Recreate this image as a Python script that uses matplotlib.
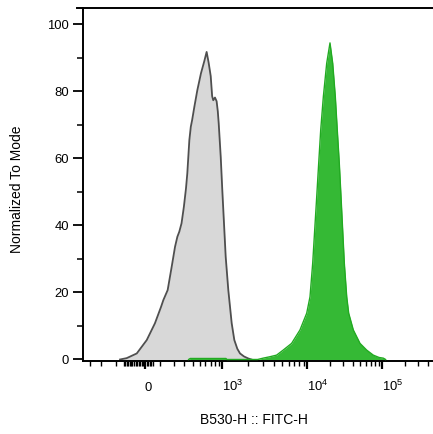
import numpy as np
import matplotlib
matplotlib.use('Agg')
import matplotlib.pyplot as plt
from matplotlib.ticker import FixedLocator, NullFormatter

plt.rcParams['font.family'] = ['Liberation Sans', 'DejaVu Sans']
plt.rcParams['mathtext.fontset'] = 'custom'
plt.rcParams['mathtext.rm'] = 'Liberation Sans'

# unstained control, B530-H intensity vs % of mode
gray_x = [-170, -120, -52, 11, 63, 104, 120, 152, 184, 212, 233, 251, 273, 297, 320, 335, 359,
          377, 394, 424, 466, 522, 580, 622, 660, 704, 735, 760, 800, 840, 870, 894, 949, 994,
          1042, 1092, 1173, 1287, 1383, 1500, 1615, 1800, 2023, 2200]
gray_y = [0, 0.4, 1.8, 5.8, 10.8, 15.7, 17.7, 20.7, 27.7, 33.6, 36.6, 38.1, 40.6, 45.5, 51.0, 55.5, 65.4,
          69.4, 71.4, 75.4, 80.3, 85.3, 89.0, 91.7, 88.6, 84.5, 78.5, 77.3, 78.1, 77.0, 74.0, 70.4, 60.4, 50.5,
          40.6, 30.6, 20.7, 10.8, 5.8, 3.2, 1.8, 0.9, 0.3, 0]

# stained sample
green_x = [350, 370, 1100, 1130, 2600, 3020, 3600, 4345, 5190, 6515, 8165, 9790, 10800, 11730, 12470,
           13270, 14100, 15000, 16260, 18030, 19950, 21680, 23500, 24950, 26550, 27980, 29440, 30970,
           33340, 35410, 40830, 50120, 61520, 75340, 90000, 102500, 110000]
green_y = [0, 0.3, 0.3, 0, 0, 0.4, 0.8, 1.3, 2.8, 4.8, 8.8, 13.8, 18.7, 28.7, 38.6,
           48.5, 58.5, 68.4, 78.3, 88.3, 94.4, 88.3, 78.3, 68.4, 58.5, 48.5, 38.6, 28.7,
           18.7, 13.8, 8.8, 4.8, 2.8, 1.3, 0.6, 0.4, 0]

major_ticks = [0, 1e3, 1e4, 1e5]
major_labels = ['0', r'$\mathregular{10^{3}}$', r'$\mathregular{10^{4}}$', r'$\mathregular{10^{5}}$']
minor_ticks = ([-500, -350, -200] + list(range(-140, 51, 10)) + list(range(100, 1000, 100))
               + [k * 1e3 for k in range(2, 10)] + [k * 1e4 for k in range(2, 10)]
               + [2e5, 3e5, 4e5])

# biexponential-ish display scale (asinh, stretched per decade)
C = 217.0
anchor_vals = np.array([-1e3, 0, 1e3, 1e4, 1e5, 1e6])
anchor_disp = np.array([67.5, 145, 222.5, 307.5, 382.5, 457.5])
anchor_a = np.arcsinh(anchor_vals / C)

def biex(x):
    return np.interp(np.arcsinh(np.asarray(x, float) / C), anchor_a, anchor_disp)

def biex_inv(p):
    return C * np.sinh(np.interp(np.asarray(p, float), anchor_disp, anchor_a))

fig = plt.figure(figsize=(4.33, 4.34), dpi=100)
ax = fig.add_axes([82.7 / 433, 73 / 434, (433 - 82.7) / 433, 353 / 434])
ax.set_xscale('function', functions=(biex, biex_inv))

ax.fill_between(gray_x, gray_y, 0, color='#d8d8d8', lw=0, zorder=1)
ax.plot(gray_x, gray_y, color='#4f4f4f', lw=1.3, zorder=2)
ax.fill_between(green_x, green_y, 0, color='#35b935', lw=0, zorder=3)
ax.plot(green_x, green_y, color='#22aa22', lw=1.0, zorder=3)

ax.set_xlim(biex_inv(82.7), biex_inv(433))
ax.set_ylim(-0.45, 104.8)

ax.set_xticks(major_ticks, labels=major_labels, ha='left', va='baseline')
ax.xaxis.set_minor_locator(FixedLocator(minor_ticks))
ax.xaxis.set_minor_formatter(NullFormatter())
ax.set_yticks([0, 20, 40, 60, 80, 100])
ax.set_yticks([10, 30, 50, 70, 90], minor=True)

ax.tick_params(axis='x', which='major', direction='out', length=6, width=1.6, pad=15.6, labelsize=9.4)
ax.tick_params(axis='x', which='minor', direction='out', length=3.3, width=1.0)
ax.tick_params(axis='y', which='major', direction='out', length=7, width=1.3, pad=2.9, labelsize=9.4)
ax.tick_params(axis='y', which='minor', direction='out', length=4, width=1.1)

for s in ['left', 'bottom', 'top']:
    ax.spines[s].set_linewidth(1.4)
ax.spines['right'].set_visible(False)
# frame line on top runs a little past the y axis
ax.plot([-0.016, 0], [1, 1], transform=ax.transAxes, color='black', lw=1.4, clip_on=False)

ax.set_xlabel('B530-H :: FITC-H', fontsize=10)
ax.set_ylabel('Normalized To Mode', fontsize=10)
ax.xaxis.set_label_coords(0.4876, -0.147)
ax.yaxis.set_label_coords(-0.167, 0.487)

plt.savefig('out.png', dpi=100)
